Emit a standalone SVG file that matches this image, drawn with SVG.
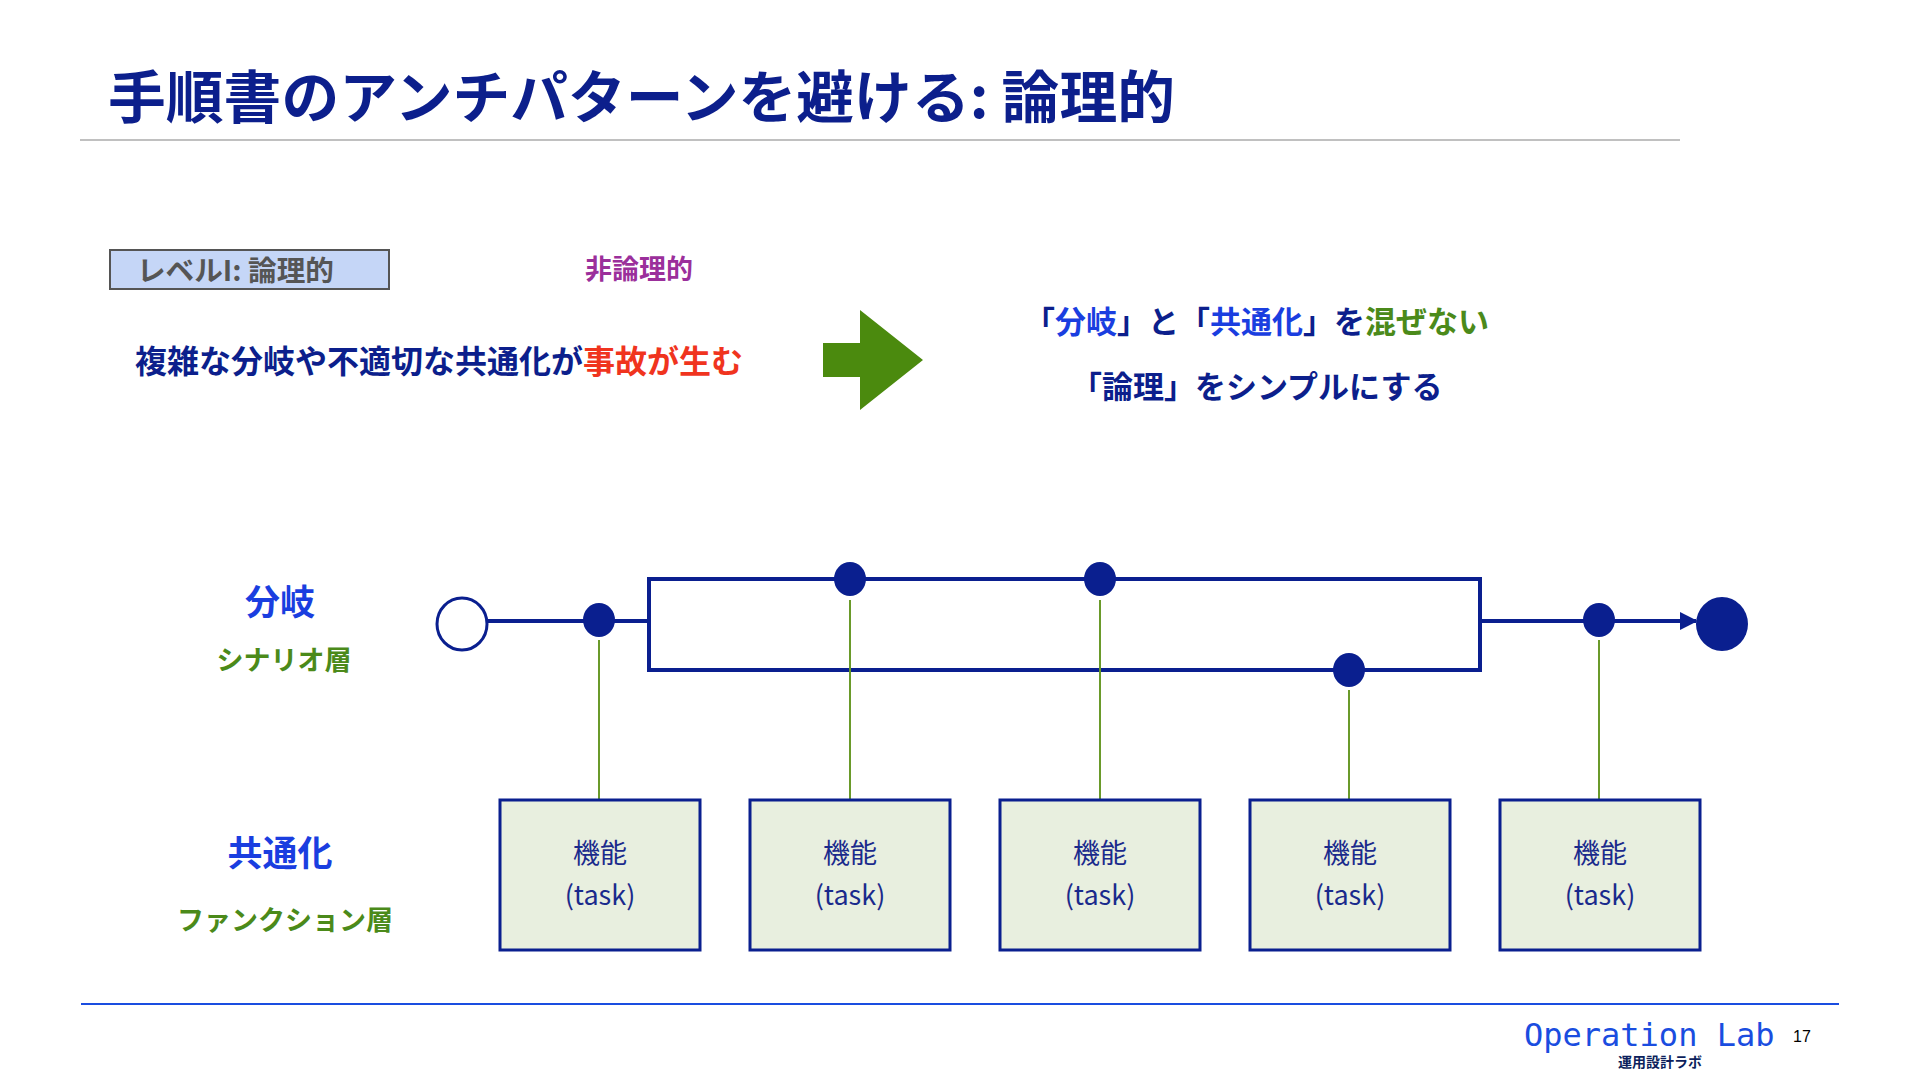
<svg xmlns="http://www.w3.org/2000/svg" width="1920" height="1080" viewBox="0 0 1920 1080">
<defs>
<style>
text{font-family:"Noto Sans CJK JP","Noto Sans",sans-serif;}
.b{font-weight:700;}
.navy{fill:#0c1f8c;}
.blue{fill:#1a3ee0;}
.green{fill:#4b8a1a;}
.red{fill:#f0341e;}
.flow{stroke:#0a1f8f;stroke-width:4;fill:none;}
.dot{fill:#0a1f8f;}
.link{stroke:#6a9a2a;stroke-width:2;}
.box{fill:#e8efdf;stroke:#0a1f8f;stroke-width:3;}
.bt{font-size:27px;fill:#1a2a8c;font-weight:400;text-anchor:middle;}
</style>
<marker id="ah" viewBox="0 0 10 10" refX="9" refY="5" markerWidth="4.5" markerHeight="4.5" orient="auto" markerUnits="strokeWidth">
<path d="M0,0 L10,5 L0,10 z" fill="#0a1f8f"/>
</marker>
</defs>
<rect width="1920" height="1080" fill="#ffffff"/>

<g id="title">
<text x="108" y="118" class="b navy" font-size="57" textLength="1067" lengthAdjust="spacingAndGlyphs">手順書のアンチパターンを避ける: 論理的</text>
<line x1="80" y1="140" x2="1680" y2="140" stroke="#c0c0c0" stroke-width="2"/>
</g>

<g id="level-label">
<rect x="110" y="250" width="279" height="39" fill="#c5d6f7" stroke="#555555" stroke-width="2"/>
<text x="137" y="281" class="b" font-size="28" fill="#555555" textLength="197" lengthAdjust="spacingAndGlyphs">レベルI: 論理的</text>
</g>

<g id="non-logical">
<text x="585" y="279" class="b" font-size="27" fill="#9b2f9b">非論理的</text>
</g>

<g id="problem">
<text x="135" y="373" class="b navy" font-size="32">複雑な分岐や不適切な共通化が<tspan class="red">事故が生む</tspan></text>
</g>

<g id="big-arrow">
<polygon points="823,343 860,343 860,310 923,360 860,410 860,377 823,377" fill="#4b8a0e"/>
</g>

<g id="solution">
<text x="1024" y="333" class="b navy" font-size="31">「<tspan class="blue">分岐</tspan>」と「<tspan class="blue">共通化</tspan>」を<tspan class="green">混ぜない</tspan></text>
<text x="1071" y="398" class="b navy" font-size="31">「論理」をシンプルにする</text>
</g>

<g id="layer-labels">
<text x="280" y="615" class="b blue" font-size="35" text-anchor="middle">分岐</text>
<text x="284" y="670" class="b green" font-size="27" text-anchor="middle">シナリオ層</text>
<text x="280" y="866" class="b blue" font-size="35" text-anchor="middle">共通化</text>
<text x="285" y="930" class="b green" font-size="27" text-anchor="middle">ファンクション層</text>
</g>

<g id="connectors">
<line class="flow" x1="488" y1="621" x2="649" y2="621"/>
<polyline class="flow" points="651,579 649,579 649,670 651,670"/>
<line class="flow" x1="649" y1="579" x2="1480" y2="579"/>
<line class="flow" x1="649" y1="670" x2="1480" y2="670"/>
<line class="flow" x1="1480" y1="577" x2="1480" y2="672"/>
<line class="flow" x1="1480" y1="621" x2="1696" y2="621" marker-end="url(#ah)"/>
<line class="link" x1="599" y1="640" x2="599" y2="800"/>
<line class="link" x1="850" y1="600" x2="850" y2="800"/>
<line class="link" x1="1100" y1="600" x2="1100" y2="800"/>
<line class="link" x1="1349" y1="690" x2="1349" y2="800"/>
<line class="link" x1="1599" y1="640" x2="1599" y2="800"/>
</g>

<g id="start">
<ellipse cx="462" cy="624" rx="25" ry="26" fill="#ffffff" stroke="#0a1f8f" stroke-width="3"/>
</g>
<g id="end">
<ellipse cx="1722" cy="624" rx="26" ry="27" class="dot"/>
</g>
<g id="step1"><ellipse cx="599" cy="620" rx="16" ry="17" class="dot"/></g>
<g id="step2"><ellipse cx="850" cy="579" rx="16" ry="17" class="dot"/></g>
<g id="step3"><ellipse cx="1100" cy="579" rx="16" ry="17" class="dot"/></g>
<g id="step4"><ellipse cx="1349" cy="670" rx="16" ry="17" class="dot"/></g>
<g id="step5"><ellipse cx="1599" cy="620" rx="16" ry="17" class="dot"/></g>

<g id="task1"><rect class="box" x="500" y="800" width="200" height="150"/><text class="bt" x="600" y="863">機能</text><text class="bt" x="600" y="905">(task)</text></g>
<g id="task2"><rect class="box" x="750" y="800" width="200" height="150"/><text class="bt" x="850" y="863">機能</text><text class="bt" x="850" y="905">(task)</text></g>
<g id="task3"><rect class="box" x="1000" y="800" width="200" height="150"/><text class="bt" x="1100" y="863">機能</text><text class="bt" x="1100" y="905">(task)</text></g>
<g id="task4"><rect class="box" x="1250" y="800" width="200" height="150"/><text class="bt" x="1350" y="863">機能</text><text class="bt" x="1350" y="905">(task)</text></g>
<g id="task5"><rect class="box" x="1500" y="800" width="200" height="150"/><text class="bt" x="1600" y="863">機能</text><text class="bt" x="1600" y="905">(task)</text></g>

<g id="footer">
<line x1="81" y1="1004" x2="1839" y2="1004" stroke="#1a4de0" stroke-width="2"/>
<text x="1524" y="1046" style="font-family:'DejaVu Sans Mono','Liberation Mono',monospace" font-size="32" fill="#1a4de0">Operation Lab</text>
<text x="1793" y="1042" style="font-family:'Liberation Sans',sans-serif" font-size="16" fill="#000000">17</text>
<text x="1660" y="1067" class="b" font-size="14" fill="#0c1f5c" text-anchor="middle">運用設計ラボ</text>
</g>
</svg>
